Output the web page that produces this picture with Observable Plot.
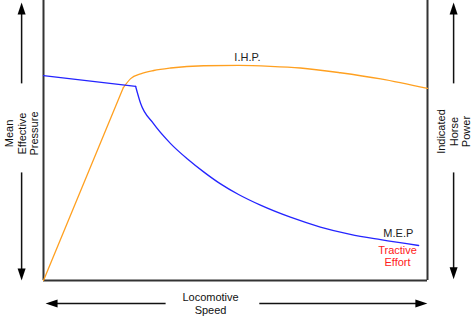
<!DOCTYPE html>
<html>
<head>
<meta charset="utf-8">
<script src="https://cdn.jsdelivr.net/npm/d3@7"></script>
<script src="https://cdn.jsdelivr.net/npm/@observablehq/plot@0.6"></script>
<style>
  html, body { margin: 0; padding: 0; background: #fff; }
  #chart svg { display: block; }
</style>
</head>
<body>
<div id="chart"></div>
<script>
// Speed (0–100 of frame width) and values (0–100 of frame height)
const mepSpeed = [0, 24.0, 25.3, 28.6, 33.1, 37.5, 41.7, 46.1, 50.8, 56.5, 64.3, 72.1, 79.9, 87.8, 97.7];
const mepValue = [73.2, 69.3, 63.2, 56.1, 48.9, 43.4, 38.8, 34.5, 30.7, 26.9, 22.6, 19.1, 16.5, 14.6, 12.5];

const ihpSpeed = [0, 20.8, 22.7, 25.3, 28.7, 33.1, 41.7, 50.8, 59.1, 66.9, 77.3, 87.8, 100];
const ihpValue = [0, 68.9, 72.1, 73.8, 75.0, 75.9, 76.7, 76.8, 76.5, 75.9, 74.2, 72.0, 68.6];

// Annotation labels
const labelText = ["I.H.P.", "M.E.P", "Tractive\nEffort"];
const labelX = [53.1, 92.4, 92.2];
const labelY = [79.6, 16.8, 8.6];
const labelColor = ["#222", "#222", "#ff2020"];

// Axis titles
const axisText = ["Mean\nEffective\nPressure", "Indicated\nHorse\nPower", "Locomotive\nSpeed"];
const axisX = [-5.7, 106.8, 43.5];
const axisY = [52.5, 53.2, -8.2];
const axisRotate = [-90, -90, 0];

// Double arrows: shafts (x1,y1,x2,y2) and heads (x,y,rotation)
const shaftX1 = [-5.7, -5.7, 106.8, 106.8, 31.8, 56.2];
const shaftY1 = [70.4, 38.6, 70.4, 38.6, -8.2, -8.2];
const shaftX2 = [-5.7, -5.7, 106.8, 106.8, 2.5, 98.0];
const shaftY2 = [96.0, 3.0, 96.0, 3.0, -8.2, -8.2];
const headX = [-5.7, -5.7, 106.8, 106.8, 2.1, 98.4];
const headY = [97.1, 2.1, 97.1, 2.6, -8.2, -8.2];
const headRot = [0, 180, 0, 180, -90, 90];

const mep = mepSpeed.map((x, i) => ({x, y: mepValue[i]}));
const ihp = ihpSpeed.map((x, i) => ({x, y: ihpValue[i]}));
const labels = labelText.map((t, i) => ({t, x: labelX[i], y: labelY[i], c: labelColor[i]}));
const axisLabels = axisText.map((t, i) => ({t, x: axisX[i], y: axisY[i], r: axisRotate[i]}));
const shafts = shaftX1.map((x1, i) => ({x1, y1: shaftY1[i], x2: shaftX2[i], y2: shaftY2[i]}));
const heads = headX.map((x, i) => ({x, y: headY[i], r: headRot[i]}));

const arrowHead = {
  draw(context) {
    context.moveTo(0, -6);
    context.lineTo(4, 6);
    context.lineTo(-4, 6);
    context.closePath();
  }
};

const chart = Plot.plot({
  width: 473,
  height: 316,
  marginTop: 0,
  marginBottom: 36,
  marginLeft: 43,
  marginRight: 46,
  x: {domain: [0, 100], axis: null},
  y: {domain: [0, 100], axis: null},
  style: {fontFamily: "'Liberation Sans', Arial, sans-serif", fontSize: "11px", background: "#fff"},
  marks: [
    Plot.ruleX([0, 100], {stroke: "#333", strokeWidth: 2}),
    Plot.ruleY([0], {stroke: "#333", strokeWidth: 2}),
    Plot.line(ihp.slice(0, 2), {x: "x", y: "y", stroke: "#ffa020", strokeWidth: 1.3}),
    Plot.line(ihp.slice(1), {x: "x", y: "y", stroke: "#ffa020", strokeWidth: 1.3, curve: "monotone-x"}),
    Plot.line(mep.slice(0, 2), {x: "x", y: "y", stroke: "#2424ff", strokeWidth: 1.3}),
    Plot.line(mep.slice(1), {x: "x", y: "y", stroke: "#2424ff", strokeWidth: 1.3, curve: "monotone-x"}),
    Plot.text(labels, {x: "x", y: "y", text: "t", fill: d => d.c, fontSize: 11, lineHeight: 1.1}),
    Plot.text(axisLabels, {x: "x", y: "y", text: "t", rotate: "r", fill: "#111", fontSize: 11, lineHeight: 1.15}),
    Plot.link(shafts, {x1: "x1", y1: "y1", x2: "x2", y2: "y2", stroke: "#111", strokeWidth: 1.5}),
    Plot.dot(heads, {x: "x", y: "y", rotate: "r", symbol: arrowHead, fill: "#000", stroke: null})
  ]
});
document.getElementById("chart").appendChild(chart);
</script>
</body>
</html>
